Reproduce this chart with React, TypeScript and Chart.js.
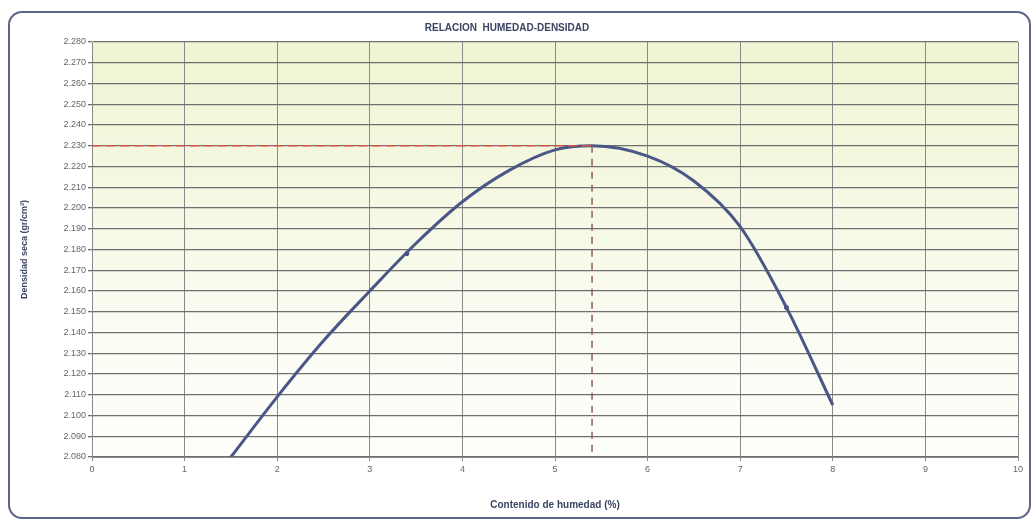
import React, { useEffect, useRef } from "react";
import { Chart, registerables } from "chart.js";

Chart.register(...registerables);

// ---- Data ----
const chartTitle = "RELACION  HUMEDAD-DENSIDAD";
const xAxisTitle = "Contenido de humedad (%)";
const yAxisTitle = "Densidad seca (gr/cm³)";

// Fitted compaction curve (moisture %, dry density)
const curveMoisture = [1.5, 2.0, 2.5, 3.0, 3.5, 4.0, 4.5, 5.0, 5.4, 6.0, 6.5, 7.0, 7.5, 8.0];
const curveDensity = [2.08, 2.109, 2.136, 2.16, 2.183, 2.203, 2.218, 2.228, 2.23, 2.225, 2.213, 2.191, 2.152, 2.105];

// Visible test points
const sampleMoisture = [3.4, 7.5];
const sampleDensity = [2.178, 2.152];

// Optimum
const optimumMoisture = 5.4;
const maxDryDensity = 2.23;

// Axes
const xMin = 0;
const xMax = 10;
const xStep = 1;
const yMin = 2.08;
const yMax = 2.28;
const yStep = 0.01;

const W = 1035;
const H = 525;

const plotBackground = {
  id: "plotBackground",
  beforeDraw(chart: any) {
    const { ctx, chartArea } = chart;
    if (!chartArea) return;
    const g = ctx.createLinearGradient(0, chartArea.top, 0, chartArea.bottom);
    g.addColorStop(0, "#f0f4d2");
    g.addColorStop(0.35, "#f5f8e2");
    g.addColorStop(0.7, "#fbfcf3");
    g.addColorStop(1, "#fefefb");
    ctx.save();
    ctx.fillStyle = g;
    ctx.fillRect(chartArea.left, chartArea.top, chartArea.right - chartArea.left, chartArea.bottom - chartArea.top);
    ctx.restore();
  },
};

const titlePlugin = {
  id: "customTitle",
  afterDraw(chart: any) {
    const { ctx, chartArea } = chart;
    ctx.save();
    ctx.font = "bold 10px 'Liberation Sans', Arial, sans-serif";
    ctx.fillStyle = "#3c4463";
    ctx.textAlign = "center";
    ctx.textBaseline = "middle";
    ctx.fillText(chartTitle, (chartArea.left + chartArea.right) / 2 - 48, 28);
    ctx.restore();
  },
};

export default function App() {
  const ref = useRef<HTMLCanvasElement | null>(null);

  useEffect(() => {
    document.body.style.margin = "0";
    const canvas = ref.current;
    if (!canvas) return;

    const curve = curveMoisture.map((x, i) => ({ x, y: curveDensity[i] }));
    const samples = sampleMoisture.map((x, i) => ({ x, y: sampleDensity[i] }));
    const hLine = [
      { x: xMin, y: maxDryDensity },
      { x: optimumMoisture, y: maxDryDensity },
    ];
    const vLine = [
      { x: optimumMoisture, y: maxDryDensity },
      { x: optimumMoisture, y: yMin },
    ];

    const chart = new Chart(canvas, {
      type: "line",
      data: {
        datasets: [
          {
            label: "Máxima densidad",
            data: hLine,
            borderColor: "#d2574a",
            borderWidth: 1.5,
            borderDash: [9, 5],
            pointRadius: 0,
            tension: 0,
          },
          {
            label: "Humedad óptima",
            data: vLine,
            borderColor: "#8c5f5a",
            borderWidth: 1.5,
            borderDash: [7, 6],
            pointRadius: 0,
            tension: 0,
          },
          {
            label: "Curva",
            data: curve,
            borderColor: "#4a5685",
            borderWidth: 3,
            pointRadius: 0,
            cubicInterpolationMode: "monotone",
          },
          {
            label: "Ensayos",
            data: samples,
            showLine: false,
            pointRadius: 2,
            pointBackgroundColor: "#3c4670",
            pointBorderColor: "#3c4670",
          },
        ],
      },
      options: {
        animation: false,
        responsive: false,
        devicePixelRatio: 1,
        layout: { padding: { left: 15, right: 17, top: 42, bottom: 10 } },
        plugins: {
          legend: { display: false },
          tooltip: { enabled: false },
          title: { display: false },
        },
        scales: {
          x: {
            type: "linear",
            min: xMin,
            max: xMax,
            afterFit: (s: any) => {
              s.height = 58;
            },
            ticks: {
              stepSize: xStep,
              color: "#666",
              font: { size: 9, family: "'Liberation Sans', Arial, sans-serif" },
              padding: 3,
            },
            grid: { color: "#8a8a8a", lineWidth: 1, tickLength: 4 },
            border: { color: "#8a8a8a" },
            title: {
              display: true,
              text: xAxisTitle,
              color: "#3c4463",
              font: { size: 10, weight: "bold", family: "'Liberation Sans', Arial, sans-serif" },
              padding: { top: 0, bottom: 4 },
            },
          },
          y: {
            type: "linear",
            min: yMin,
            max: yMax,
            afterFit: (s: any) => {
              s.width = 77;
            },
            ticks: {
              stepSize: yStep,
              color: "#666",
              font: { size: 9, family: "'Liberation Sans', Arial, sans-serif" },
              padding: 2,
              callback: (v: any) => Number(v).toFixed(3),
            },
            grid: { color: "#6f6f6f", lineWidth: 1.3, tickLength: 4 },
            border: { color: "#8a8a8a" },
            title: {
              display: true,
              text: yAxisTitle,
              color: "#3c4463",
              font: { size: 9, weight: "bold", family: "'Liberation Sans', Arial, sans-serif" },
              padding: { top: 4, bottom: 0 },
            },
          },
        },
      },
      plugins: [plotBackground, titlePlugin],
    });

    return () => chart.destroy();
  }, []);

  return (
    <div style={{ position: "relative", width: W, height: H, background: "#ffffff", overflow: "hidden" }}>
      <div
        style={{
          position: "absolute",
          left: 8,
          top: 11,
          width: 1019,
          height: 504,
          border: "2px solid #5b6584",
          borderRadius: 14,
          boxSizing: "content-box",
        }}
      />
      <canvas ref={ref} width={W} height={H} style={{ position: "absolute", left: 0, top: 0, width: W, height: H }} />
    </div>
  );
}
